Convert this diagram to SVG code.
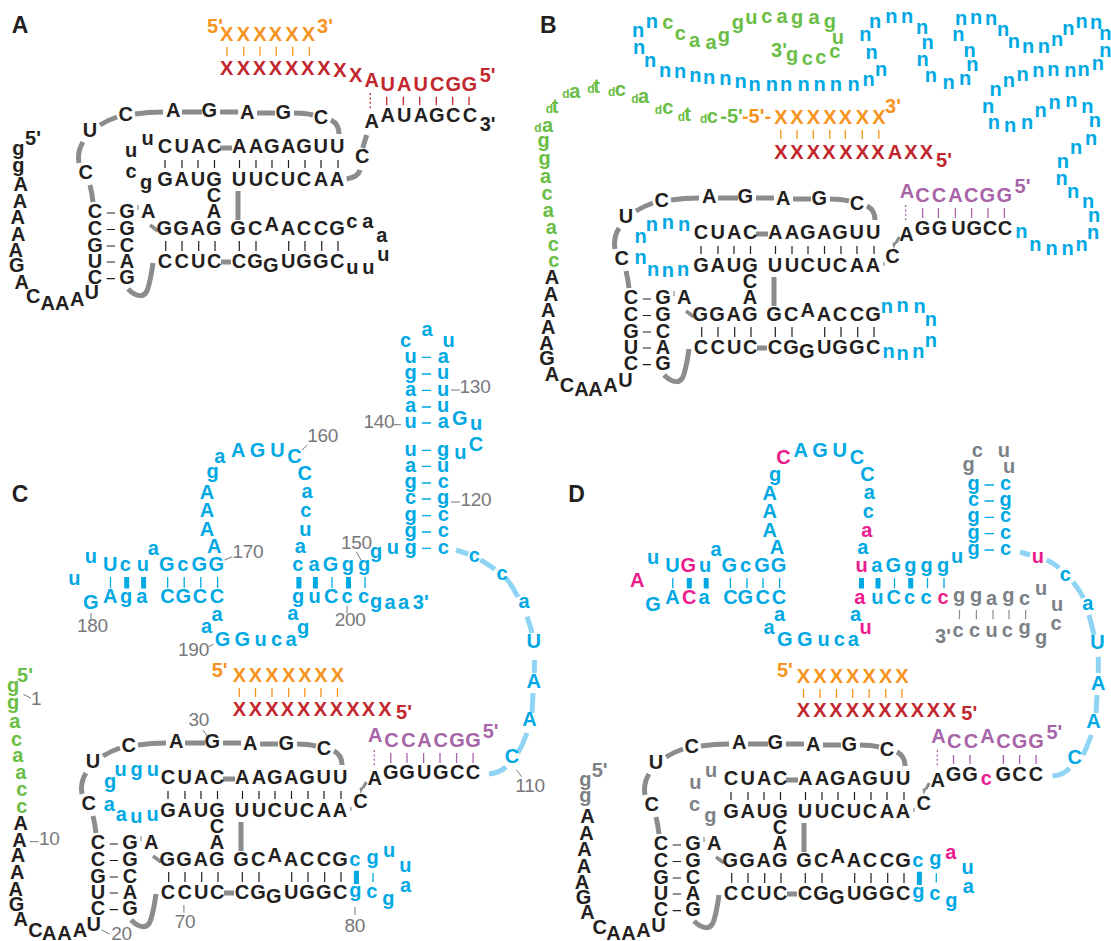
<svg xmlns="http://www.w3.org/2000/svg" width="1111" height="941" viewBox="0 0 1111 941">
<style>
text{font-family:"Liberation Sans",Arial,sans-serif;font-weight:700;font-size:20px;text-anchor:middle}
.k{fill:#231f20}.o{fill:#f7941e}.r{fill:#c1272d}.p{fill:#a864a8}.b{fill:#00a8e4}.g{fill:#6abd45}.m{fill:#ec1c8e}.e{fill:#7c8186}
.d{fill:#6abd45;font-size:12px}
.n{fill:#77787b;font-weight:400;font-size:19px;letter-spacing:-.3px}
.h{font-size:23px;fill:#231f20}
path{fill:none}
.bb{stroke:#8a8c8e;stroke-width:5}
.lb{stroke:#8fd4f4;stroke-width:5}
.tk{stroke:#231f20;stroke-width:1.2}
.to{stroke:#f7941e;stroke-width:1.3}.tr{stroke:#c1272d;stroke-width:1.3}.tp{stroke:#a864a8;stroke-width:1.3}
.dt{stroke-dasharray:2 2.4}
.tb{stroke:#00a8e4;stroke-width:1.3}.tt{stroke:#00a8e4;stroke-width:5}
.te{stroke:#8a8c8e;stroke-width:1.2}.tn{stroke:#77787b;stroke-width:1}
</style>
<defs>
<g id="coreLines">
<path class="bb" d="M100 125Q108 120 117 117M135 114Q148 112 163 112M182 112H202M220 112H238M257 113H275M294 113Q305 113 313 115M331 120Q339 124 339 134M83 142Q77 152 79 163M90 185Q92 193 93 202M220 148H232M238 191V220M221 262H231M128 289C136 297 145 299 148 288C151 278 152 270 153 263"/>
<path class="bb" style="stroke-width:3.5" d="M150 225L158 231"/>
<path class="tk" d="M165 160v8M182 160v8M198 160v8M214.500 160v8M239.500 160v8M256 160v8M272 160v8M288.500 160v8M305 160v8M321 160v8M338 160v8M165.700 241v10M182 241v10M198.700 241v10M215 241v10M239.300 241v10M256 241v10M288.700 241v10M305 241v10M321.700 241v10M338 241v10M106.700 213h8.300M106.700 229.500h8.300M106.700 246h8.300M106.700 262h8.300M106.700 278.700h8.300"/>
<path class="te" d="M138 205v5"/>
</g>
<g id="wedge">
<path class="te" d="M348 176v4"/>
<path class="bb" style="stroke-width:3" d="M363.300 151L360 157"/>
<path d="M361.500 155L357.500 163L356.500 157Z" style="fill:#8a8c8e"/>
</g>
</defs>
<g id="connectors">
<g id="connectors-a">
<use href="#coreLines"/>
<path class="bb" d="M366.700 135L362.700 148M346.700 179Q358 177 360 170"/>
<path class="to" d="M227 46.700v9M243.700 46.700v9M260 46.700v9M276.300 46.700v9M292.700 46.700v9M309.300 46.700v9"/>
<path class="tr" d="M386.700 96.700v8.600M403.300 96.700v8.600M419.700 96.700v8.600M436.300 96.700v8.600M452.700 96.700v8.600M469 96.700v8.600"/>
<path class="tr dt" d="M370.300 93v17"/>
</g>
<g id="connectors-b">
<g transform="translate(536 86)"><use href="#coreLines"/><use href="#wedge"/></g>
<path class="to" d="M780.800 130v9M797 130v9M813.300 130v9M829.800 130v9M845.300 130v9M862.300 130v9M878.800 130v9"/>
<path class="tp" d="M922.600 208v10M938.400 208v10M955.400 208v10M971.600 208v10M988 208v10M1004.400 208v10"/>
<path class="tp dt" d="M905.600 205v17"/>
</g>
<g id="connectors-c">
<g transform="translate(3 631)"><use href="#coreLines"/><use href="#wedge"/></g>
<path class="to" d="M239.300 688v9M255.500 688v9M272 688v9M288.600 688v9M304.800 688v9M321 688v9M337.500 688v9"/>
<path class="tp" d="M390.800 753v10M407 753v10M423.600 753v10M440 753v10M456.600 753v10M473.100 753v10"/>
<path class="tp dt" d="M374.300 750v17"/>
<path class="lb" d="M456 550L468.300 554M480.400 560Q488 564 494.800 569.300M506 578Q513 587 518 597M527 616.700Q530 625 532 633M534.400 660V673M533 693L532 713M527 733Q523 744 518 753M506 767Q499 773 489 774"/>
<path class="tb" d="M421.800 357.400h9.200M421.800 374h9.200M421.800 390.400h9.200M421.800 407h9.200M421.800 423h9.200M421.800 450.400h9.200M421.800 466.400h9.200M421.800 483h9.200M421.800 499h9.200M421.800 515.700h9.200M421.800 532h9.200M421.800 548.400h9.200"/>
<path class="tb" d="M110.500 577v11M167.700 577v11M184.200 577v11M200.800 577v11M217.600 577v11M332 577v11M365 577v11M373 873v9"/>
<path class="tt" d="M126.700 577v11.500M143.600 577v11.500M298.900 577v11.500M315.400 577v11.500M348.500 577v11.500M356.400 870.700V884"/>
<path class="tn" d="M451 390h9M393 424.700h8M451 502h9M302 450L307.500 445M356.400 551.700L360.900 560M224.500 560L232.400 556.700M91 613V620M347 606V613M208.300 646.700L213.500 644.300M516.500 770L521.700 776.700M183.900 905V912.700M355 907V915M101.600 930L109.500 934M30 841.700H38.600M23.400 694.300L31 698.300M203 730L207.600 736.700"/>
</g>
<g id="connectors-d">
<g transform="translate(566 632)"><use href="#coreLines"/><use href="#wedge"/></g>
<path class="to" d="M803.500 689v9M820 689v9M836.500 689v9M852.700 689v9M869.200 689v9M885.700 689v9M901.900 689v9"/>
<path class="tp" d="M953.500 755v9M970 755v9M1003.400 755v9M1019.600 755v9M1036.100 755v9"/>
<path class="tp dt" d="M937.400 750v17.300"/>
<path class="lb" d="M1020 552L1030 555M1046.600 560Q1055 564 1059 568M1073 582Q1080 591 1083.500 598M1089 615Q1092 626 1094 635M1098.300 656.700V673M1097 695L1096 713M1091.300 735Q1087 747 1083 755M1069.500 768Q1064 775 1052.600 776"/>
<path class="tb" d="M984.500 485h9.500M984.500 501h9.500M984.500 517.300h9.500M984.500 533.700h9.500M984.500 550h9.500"/>
<path class="tb" d="M672.800 578v10.300M730.400 578v10.300M747 578v10.300M763 578v10.300M779.600 578v10.300M894.500 578v10.300M927.500 578v10.300M944 578v10.300M936.300 873.300v9.300"/>
<path class="tt" d="M689.300 578v10.500M706.200 578v10.500M861.500 578v10.500M878 578v10.500M910.700 578v10.500M919.400 871.700V885"/>
<path class="te" d="M959.500 610v9.300M976.400 610v9.300M993 610v9.300M1009 610v9.300M1025.600 610v9.300"/>
</g>
</g>
<g id="panel-a">
<text class="h" x="20" y="33.300">A</text>
<g transform="translate(0 0)">
<text class="k" x="165 181.700 198.300 214.300 239.300 256 271.700 288.300 304 320.700 337.300" y="153">CUACAAGAGUU</text>
<text class="k" x="165 181.700 198 214 239 256 271.700 288 304 321 337" y="186">GAUGUUCUCAA</text>
<text class="k" x="214 214" y="202 218">CA</text>
<text class="k" x="164.300 181 197.700 213.700 238 255.300 271.700 288 304 321 337" y="235 235 235 235 235 235 230.700 235 235 235 235">GGAGGCAACCG</text>
<text class="k" x="165 181.700 198.300 214.300 239 255 270.700 288.300 304 320.700 337.300" y="267.700 267.700 267.700 267.700 267.700 267.700 271.700 267.700 267.700 267.700 267.700">CCUCCGGUGGC</text>
<text class="k" x="95 127 95 127 95 127 95 127 95 127 148.300" y="218.300 218.300 235 235 251.700 251.700 267.700 267.700 284.300 284.300 218.300">CGCGGCUACGA</text>
<text class="k" x="90 125.700 173.300 209.300 247.300 283.300 321 85.700" y="136.700 120.700 117.300 117.300 119 119 124.300 179.300">UCAGAGCC</text>
</g>
<text class="k" x="18.300 18.300 20.700 20 17.700 18.300 15.700 16.700 21.700 33.300 47.700 62.300 77.300 91.700" y="155 172 191 207.700 224 241 256.700 271.700 289 303 310 310 306 299">ggAAAAAGACAAAU</text>
<text class="k" x="33" y="145">5'</text>
<text class="o" x="215" y="33.300">5'</text>
<text class="o" x="226.700 243.300 260 275.300 292 308.300" y="40.700">XXXXXX</text>
<text class="o" x="325" y="32.700">3'</text>
<text class="r" x="226.700 243.300 259.300 275.300 291.700 307.700 324 340 355.700 371.700 387.700 404.300 420.700 437.300 453.300 469.300" y="75 75 75 75 75 75 75 77.300 82 86.700 90.700 90.700 90.700 90.700 90.700 90.700">XXXXXXXXXAUAUCGG</text>
<text class="r" x="487.700" y="81.700">5'</text>
<text class="k" x="371.700 387.700 404.300 421 436.700 453.300 470" y="128.300 122.300 122.300 122.300 122.300 122.300 122.300">AAUAGCC</text>
<text class="k" x="487.700" y="130.700">3'</text>
<text class="k" x="362.300" y="162.700">C</text>
<text class="k" x="147.700 131 131 146" y="145 156.700 178.300 189">uucg</text>
<text class="k" x="351.700 367.700 381.700 383.300 368.300 352.300" y="228.300 227.700 241.700 261 274 274">caauuu</text>
</g>
<g id="panel-b">
<text class="h" x="548.300" y="33.300">B</text>
<g transform="translate(536 86)">
<text class="k" x="165 181.700 198.300 214.300 239.300 256 271.700 288.300 304 320.700 337.300" y="153">CUACAAGAGUU</text>
<text class="k" x="165 181.700 198 214 239 256 271.700 288 304 321 337" y="186">GAUGUUCUCAA</text>
<text class="k" x="214 214" y="202 218">CA</text>
<text class="k" x="164.300 181 197.700 213.700 238 255.300 271.700 288 304 321 337" y="235 235 235 235 235 235 230.700 235 235 235 235">GGAGGCAACCG</text>
<text class="k" x="165 181.700 198.300 214.300 239 255 270.700 288.300 304 320.700 337.300" y="267.700 267.700 267.700 267.700 267.700 267.700 271.700 267.700 267.700 267.700 267.700">CCUCCGGUGGC</text>
<text class="k" x="95 127 95 127 95 127 95 127 95 127 148.300" y="218.300 218.300 235 235 251.700 251.700 267.700 267.700 284.300 284.300 218.300">CGCGGCUACGA</text>
<text class="k" x="90 125.700 173.300 209.300 247.300 283.300 321 85.700" y="136.700 120.700 117.300 117.300 119 119 124.300 179.300">UCAGAGCC</text>
</g>
<text class="k" x="552 551 548.300 548.300 546.400 547 552 567.100 581.400 595.400 610.500 625.500" y="284.300 301 316.700 334 350 365 381 391.700 396 396 391.700 386.700">AAAAAGACAAAU</text>
<text class="g" x="553.900 553.200 551.300 548.300 547 545.600 544.500 543.700" y="267.300 251 234.300 217.300 200 182.700 165 147">ccaacagg</text>
<text class="g" x="547.500 555 574.700 596.500 620.300 643.600 667.800 687.700 712.200" y="131.700 113.300 98.300 93.300 95.700 103.300 114 120.700 122.700">atatcactc</text>
<text class="d" x="538 549.400 566 590.900 611.600 635 658.300 681.300 703.600" y="131.700 113.300 98.300 93.300 95.700 103.300 114 120.700 122.700">ddddddddd</text>
<text class="g" x="731.500" y="122.700">-5'</text>
<text class="o" x="756.500" y="122.700">-5'-</text>
<text class="o" x="780.800 797 813.300 829.800 845.300 862.300 878.800" y="124">XXXXXXX</text>
<text class="o" x="893" y="113.300">3'</text>
<text class="r" x="780.800 797 813.300 829 846 862.300 878 895 911 926.300" y="158.700">XXXXXXXAXX</text>
<text class="r" x="944" y="166.700">5'</text>
<text class="p" x="907 922.600 939 955.400 971.200 987.400 1004.400" y="197.700 201.700 201.700 201.700 201.700 201.700 201.700">ACCACGG</text>
<text class="p" x="1022.500" y="193">5'</text>
<text class="k" x="906.400 922.600 939.500 958.400 974.200 990 1005" y="240.700 235 235 235 235 235 235">AGGUGCC</text>
<text class="k" x="892.400" y="263.300">C</text>
<text class="g" x="667.800 680.200 694.500 711.100 723.900 737.900 751.400 766.900 782 797 814 829.800 837.800 834.700 820.800 807.200 792.100" y="29.300 40 47.300 49 42 29 24 22.700 22.700 24 24 28 44 58.300 64 65 61">ccaaggucagagucccg</text>
<text class="g" x="779" y="56.700">3'</text>
<text class="b" x="651.900 638 639.100 650 665.100 680.200 695.300 709.200 725.400 740.500 754.500 771.800 786.100 803.500 819.700 835.900 853.600 868.700 881.100 871.700 865.300 875.100 891.300 907.100 922.200 927.500 922.600 930.900 948.600 965.200 972.300 969.700 958.400 961 976.100 991.200 1003.200 1013.800 1028.100 1043.900 1057.100 1068.400 1081.600 1096 1105.400 1105.400 1097.800 1083.500 1070.300 1053.400 1038.300 1022.500 1008.900 995.700 988.200 993.800 1010 1027 1040.500 1054.500 1071.400 1087.300 1094.800 1091 1076 1062.800 1061.600 1073 1088 1094 1093 1081.600 1067.700 1051.500 1035.300 1021.300" y="27.700 36.700 54 66.700 76.700 78.300 82.300 84.300 85 87.700 90.700 90.700 90.700 90.700 90.700 90.700 90.700 86 76 59.300 40.700 28.300 23.300 23.300 34 49 65.700 82.300 88.700 85 71 56.700 40.700 25 24 25 35.700 48.300 53.300 53.300 45.700 35 28.300 29 40 56.700 70 76 76.700 76 76.700 81 87.300 95.700 112.700 129 131.700 129 117.300 109.300 107.300 113.300 127.300 145 154 168.300 185 198.300 208.300 222 239 251 255 255 251 238.300">nnnnnnnnnnnnnnnnnnnnnnnnnnnnnnnnnnnnnnnnnnnnnnnnnnnnnnnnnnnnnnnnnnnnnnnnnnnn</text>
<text class="b" x="640.600 651.900 667.800 684 640.600 653 667.800 683.200" y="243.300 231 229.300 231 264 275.700 277.300 275.700">nnnnnnnn</text>
<text class="b" x="886.800 902.600 919.500 930.900 930.900 918.400 902.600 888.600" y="313.300 311.700 313.300 325.700 347.300 357.700 360 358.300">nnnnnnnn</text>
</g>
<g id="panel-c">
<text class="h" x="20" y="501.700">C</text>
<g transform="translate(3 631)">
<text class="k" x="165 181.700 198.300 214.300 239.300 256 271.700 288.300 304 320.700 337.300" y="153">CUACAAGAGUU</text>
<text class="k" x="165 181.700 198 214 239 256 271.700 288 304 321 337" y="186">GAUGUUCUCAA</text>
<text class="k" x="214 214" y="202 218">CA</text>
<text class="k" x="164.300 181 197.700 213.700 238 255.300 271.700 288 304 321 337" y="235 235 235 235 235 235 230.700 235 235 235 235">GGAGGCAACCG</text>
<text class="k" x="165 181.700 198.300 214.300 239 255 270.700 288.300 304 320.700 337.300" y="267.700 267.700 267.700 267.700 267.700 267.700 271.700 267.700 267.700 267.700 267.700">CCUCCGGUGGC</text>
<text class="k" x="95 127 95 127 95 127 95 127 95 127 148.300" y="218.300 218.300 235 235 251.700 251.700 267.700 267.700 284.300 284.300 218.300">CGCGGCUACGA</text>
<text class="k" x="90 125.700 173.300 209.300 247.300 283.300 321 85.700" y="136.700 120.700 117.300 117.300 119 119 124.300 179.300">UCAGAGCC</text>
</g>
<text class="g" x="13 13 14.800 16.500 17.900 20.700 21.700 21.700" y="692 708.700 728.300 745.700 762.300 779.300 796 813.300">ggacaacc</text>
<text class="g" x="25" y="681.700">5'</text>
<text class="k" x="20.700 19.600 17.900 17.200 15.800 16.500 20.700 35.500 49.200 64.400 79.900 93.700" y="830 846.700 862.300 879 895.700 910.700 926 937.300 940 940 936.700 930.700">AAAAAGACAAAU</text>
<text class="o" x="219.700" y="676.700">5'</text>
<text class="o" x="239.300 255.500 272 288.600 304.800 321 337.500" y="681.700">XXXXXXX</text>
<text class="r" x="239.300 255.500 272 287.500 303.700 320.300 336.400 353 368.400 385" y="716">XXXXXXXXXX</text>
<text class="r" x="404" y="719.300">5'</text>
<text class="p" x="375.300 391.500 408.400 424.600 440.800 457 473.100" y="742.300 746.700 746.700 746.700 746.700 746.700 746.700">ACCACGG</text>
<text class="p" x="490.700" y="738.300">5'</text>
<text class="k" x="374.700 390.800 407 424.200 440.800 457.300 473.100" y="785 779.300 779.300 779.300 779.300 779.300 779.300">AGGUGCC</text>
<text class="k" x="360.500" y="808.300">C</text>
<text class="b" x="110.200 120.500 136.700 152.900 109.200 121.200 136.400 152.500" y="788 776 776 776 810.700 820.700 822.700 820.700">guguaauu</text>
<text class="b" x="354.700 372.600 389 405.300 405.600 388.400 371.900 355.400" y="865.700 864 857.300 872.300 892.300 905 898.300 897">cguuagcg</text>
<text class="b" x="512 529.600 533.800 533.800 524 502 474.200" y="762.700 725.700 688.300 648.300 608 580 561.700">CAAUacc</text>
<text class="b" x="405.600 427 448.700" y="346.700 336 346.700">cau</text>
<text class="b" x="410.500 443.200 410.500 443.200 410.500 443.200 410.500 443.200 410.500 443.200 410.500 443.200 410.500 443.200 410.500 443.200 410.500 443.200 410.500 443.200 410.500 443.200 410.500 443.200" y="362.700 362.700 379.300 379.300 395.700 395.700 412.300 412.300 428.300 428.300 455.700 455.700 471.700 471.700 488.300 488.300 504.300 504.300 521 521 537.300 537.300 553.700 553.700">uaguauauuaugaugccggcgcgc</text>
<text class="b" x="459.700 476.200 475.900 460.400" y="425 430 450.700 459.300">GuCu</text>
<text class="b" x="219.700 238.300 257.600 277.500 294.400 304.800 307 305.800 305.400 300.300" y="463.300 456.700 456.700 456.700 463.300 480 498.300 517.300 535.700 553.300">aAGUCCacua</text>
<text class="b" x="212.500 207 207 207 214.200" y="478 499 517.300 535.700 552.700">gAAAA</text>
<text class="b" x="90.900 110.200 125.300 142.900 153.200 166.700 182.900 199.400 216.300" y="563.300 570.700 570.700 570.700 555 570.700 570.700 570.700 570.700">uUcuaGcGG</text>
<text class="b" x="297.900 314 330.600 347.800 364 376 392.900" y="570.700 570.700 570.700 570.700 570.700 558 554">caGgggu</text>
<text class="b" x="74.400 90.900 110.200 126 141.900 167.400 183.200 200 217" y="585 609.300 603.300 603.300 603.300 603.300 603.300 603.300 603.300">uGAgaCGCC</text>
<text class="b" x="298.200 314.700 331.300 347.100 363.600 376 390 403.600" y="603.300 603.300 603.300 603.300 603.300 608 609.300 609.300">guCccgaa</text>
<text class="b" x="420.800" y="609.300">3'</text>
<text class="b" x="217 206.600 222.500 242.400 260.700 276.500 291 303 292.700" y="620.700 633.300 646 646 646 646 646 634 620">aaGGucaga</text>
<text class="n" x="475" y="393.300">130</text>
<text class="n" x="378.800" y="428.300">140</text>
<text class="n" x="475.900" y="505.700">120</text>
<text class="n" x="322.700" y="441.700">160</text>
<text class="n" x="356.400" y="549">150</text>
<text class="n" x="247.900" y="557.700">170</text>
<text class="n" x="92.300" y="631.700">180</text>
<text class="n" x="350.200" y="626">200</text>
<text class="n" x="193.500" y="655.700">190</text>
<text class="n" x="530" y="792">110</text>
<text class="n" x="184.900" y="927.700">70</text>
<text class="n" x="354.700" y="931.700">80</text>
<text class="n" x="121.600" y="940">20</text>
<text class="n" x="49.200" y="845">10</text>
<text class="n" x="36.200" y="705">1</text>
<text class="n" x="198.700" y="725.700">30</text>
</g>
<g id="panel-d">
<text class="h" x="576.500" y="501.700">D</text>
<g transform="translate(566 632)">
<text class="k" x="165 181.700 198.300 214.300 239.300 256 271.700 288.300 304 320.700 337.300" y="153">CUACAAGAGUU</text>
<text class="k" x="165 181.700 198 214 239 256 271.700 288 304 321 337" y="186">GAUGUUCUCAA</text>
<text class="k" x="214 214" y="202 218">CA</text>
<text class="k" x="164.300 181 197.700 213.700 238 255.300 271.700 288 304 321 337" y="235 235 235 235 235 235 230.700 235 235 235 235">GGAGGCAACCG</text>
<text class="k" x="165 181.700 198.300 214.300 239 255 270.700 288.300 304 320.700 337.300" y="267.700 267.700 267.700 267.700 267.700 267.700 271.700 267.700 267.700 267.700 267.700">CCUCCGGUGGC</text>
<text class="k" x="95 127 95 127 95 127 95 127 95 127 148.300" y="218.300 218.300 235 235 251.700 251.700 267.700 267.700 284.300 284.300 218.300">CGCGGCUACGA</text>
<text class="k" x="90 125.700 173.300 209.300 247.300 283.300 321 85.700" y="136.700 120.700 117.300 117.300 119 119 124.300 179.300">UCAGAGCC</text>
</g>
<text class="e" x="585.300 585.300" y="786 802">gg</text>
<text class="e" x="599.700" y="776.700">5'</text>
<text class="k" x="587.400 586.400 584.600 583.900 582.100 583.500 587.400 599.700 613.400 628.500 643.600 658.400" y="823.300 840 856 873.300 889 904.300 919.300 934 940 940 936.700 931.700">AAAAAGACAAAU</text>
<text class="o" x="784.900" y="677.300">5'</text>
<text class="o" x="803.500 820 836.500 852.700 869.200 885.700 901.900" y="682.700">XXXXXXX</text>
<text class="r" x="803.500 820 835.800 852.300 868.500 885 901.500 917.300 933.500 949.300" y="717.300">XXXXXXXXXX</text>
<text class="r" x="969.300" y="720">5'</text>
<text class="p" x="938.400 954.200 971.100 987.600 1003.400 1019.600 1036.100" y="743.300 748.300 748.300 743.300 748.300 748.300 748.300">ACCACGG</text>
<text class="p" x="1054.400" y="739.300">5'</text>
<text class="k" x="937.700 953.500 970" y="786.700 780.700 780.700">AGG</text>
<text class="m" x="986.200" y="785">c</text>
<text class="k" x="1003.400 1019.600 1036.100" y="780.700">GCC</text>
<text class="k" x="923.700" y="810">C</text>
<text class="e" x="711 695.300 694.600 710.400" y="777.300 789.300 810.700 822">uucg</text>
<text class="b" x="917.700 935.300" y="867.300 865">cg</text>
<text class="m" x="950.700" y="859">a</text>
<text class="b" x="967.600 968.300 951.400 934.900 918.400" y="874 893.300 907 900 898">uagcg</text>
<text class="b" x="1074.800 1093.400 1098.300 1097.600" y="764.300 728.300 690 649.300">CAAU</text>
<text class="b" x="1087.800 1065.300" y="610 580.700">ac</text>
<text class="m" x="1037.900" y="562.700">u</text>
<text class="e" x="977.400 1003.800 968.600 1009" y="456.700 456.700 471 473.300">cugu</text>
<text class="b" x="973.600 1005.500 973.600 1005.500 973.600 1005.500 973.600 1005.500 973.600 1005.500" y="490 490 506 506 522.300 522.300 538.700 538.700 555 555">gccggcgcgc</text>
<text class="m" x="783.500" y="464.300">C</text>
<text class="b" x="800.700 820 839.700 856.900 867.500 869.200 868.200" y="457.300 457.300 457.300 464.300 480.700 499.300 518.300">AGUCCac</text>
<text class="m" x="866.700" y="536.700">a</text>
<text class="b" x="862.900" y="554">a</text>
<text class="b" x="775 769.800 769.800 769.800 777.100" y="481 500 518.300 536.700 554">gAAAA</text>
<text class="b" x="653.100 672.400" y="564.300 571.700">uU</text>
<text class="m" x="688.200" y="571.700">G</text>
<text class="b" x="705.100 716 729.400 745.500 762 778.600" y="571.700 556 571.700 571.700 571.700 571.700">uaGcGG</text>
<text class="m" x="861.500" y="571.700">u</text>
<text class="b" x="876.900 893.400 910.300 926.500 943 957" y="571.700 571.700 571.700 571.700 571.700 563.300">aGgggu</text>
<text class="m" x="637.300" y="586.700">A</text>
<text class="b" x="653.100 672.400" y="610.700 604">GA</text>
<text class="m" x="689.300" y="604">C</text>
<text class="b" x="704 730.400 745.200 762.700 778.900" y="604">aCGCC</text>
<text class="m" x="859.700" y="604">a</text>
<text class="b" x="877.300 893.800 909.600 926.100" y="604">uCcc</text>
<text class="m" x="943" y="604">c</text>
<text class="e" x="959.200 976 991.500 1008.400 1024.500 1041 1057.200 1056.100 1041" y="602 602 605 602 605 595 610.700 630 644">ggagcuucg</text>
<text class="e" x="943" y="643.300">3'</text>
<text class="e" x="958 974.600 991.500 1007.300 1024.500" y="636.700 636.700 636.700 636.700 634">ccucg</text>
<text class="b" x="779.600 769.100 784.900 804.900 823.500 839.300 853.400" y="620.700 634 646 646 646 646 646">aaGGuca</text>
<text class="m" x="865.700" y="634">u</text>
<text class="b" x="855.500" y="620.700">a</text>
</g>
</svg>
